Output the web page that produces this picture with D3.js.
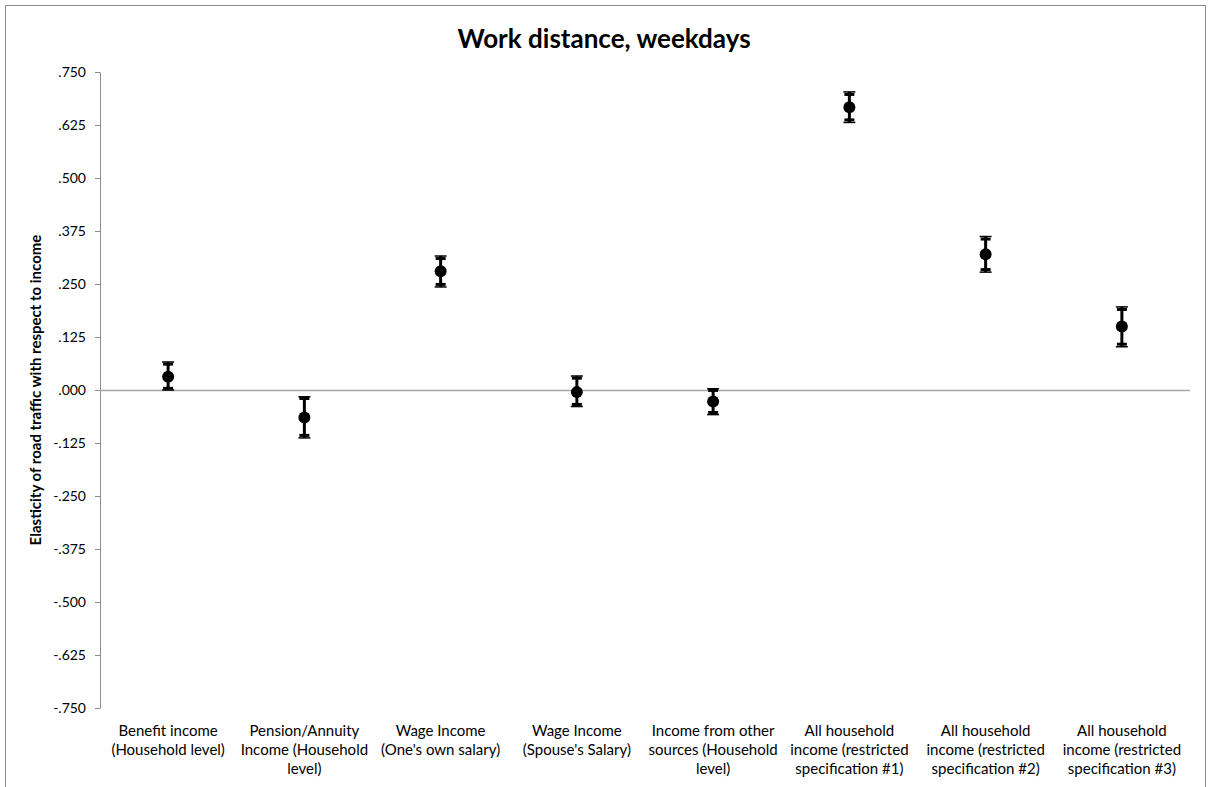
<!DOCTYPE html>
<html>
<head>
<meta charset="utf-8">
<script src="https://cdn.jsdelivr.net/npm/d3@7"></script>
<style>
  body { margin: 0; background: #fff; }
  text { font-family: Lato, "Liberation Sans", sans-serif; fill: #000; }
</style>
</head>
<body>
<div id="chart"></div>
<script>
// Categories (wrapped as in the original, one entry per line)
const categories = [
    ["Benefit income", "(Household level)"],
    ["Pension/Annuity", "Income (Household", "level)"],
    ["Wage Income", "(One's own salary)"],
    ["Wage Income", "(Spouse's Salary)"],
    ["Income from other", "sources (Household", "level)"],
    ["All household", "income (restricted", "specification #1)"],
    ["All household", "income (restricted", "specification #2)"],
    ["All household", "income (restricted", "specification #3)"]
];

// Point estimates
const estimates = [0.031, -0.065, 0.280, -0.005, -0.027, 0.667, 0.320, 0.150];

// Outer interval (thin caps)
const outerHigh = [0.066, -0.016, 0.316, 0.033, 0.003, 0.703, 0.362, 0.196];
const outerLow  = [0.000, -0.113, 0.243, -0.039, -0.058, 0.631, 0.278, 0.102];

// Inner interval (thick caps)
const innerHigh = [0.061, -0.020, 0.310, 0.028, -0.001, 0.697, 0.356, 0.190];
const innerLow  = [0.004, -0.107, 0.249, -0.034, -0.053, 0.637, 0.284, 0.108];

// Y ticks
const yTicks = [-0.750, -0.625, -0.500, -0.375, -0.250, -0.125, 0, 0.125, 0.250, 0.375, 0.500, 0.625, 0.750];

const W = 1208, H = 787;
const margin = { top: 72, right: 18, bottom: 79, left: 100 };
const width = W - margin.left - margin.right;
const height = H - margin.top - margin.bottom;

const svgRoot = d3.select("#chart").append("svg")
    .attr("width", W)
    .attr("height", H);

// Chart area border
svgRoot.append("rect")
    .attr("x", 5.5).attr("y", 5.5)
    .attr("width", 1200).attr("height", 820)
    .attr("fill", "none")
    .attr("stroke", "#8c8c8c");

const svg = svgRoot.append("g")
    .attr("transform", "translate(" + margin.left + "," + margin.top + ")");

const data = estimates.map((v, i) => ({
    idx: i,
    value: v,
    oHi: outerHigh[i], oLo: outerLow[i],
    iHi: innerHigh[i], iLo: innerLow[i]
}));

const x = d3.scaleBand()
    .domain(d3.range(categories.length))
    .range([0, width])
    .padding(0);

const y = d3.scaleLinear()
    .domain([-0.75, 0.75])
    .range([height, 0]);

const fmt = v => {
    const s = Math.abs(v).toFixed(3).replace(/^0/, "");
    return (v < 0 ? "-" : "") + s;
};

// Y axis
const yAxis = svg.append("g")
    .call(d3.axisLeft(y).tickValues(yTicks).tickFormat(fmt).tickSize(5).tickSizeOuter(0));
yAxis.select(".domain").attr("stroke", "#8c8c8c");
yAxis.selectAll(".tick line").attr("stroke", "#8c8c8c");
yAxis.selectAll(".tick text")
    .attr("x", -14)
    .style("font-size", "14px");

// Zero line (category axis)
svg.append("line")
    .attr("x1", 0).attr("x2", width)
    .attr("y1", y(0) + 0.5).attr("y2", y(0) + 0.5)
    .attr("stroke", "#a6a6a6")
    .attr("stroke-width", 1.5);

// Category labels
const labels = svg.append("g")
    .selectAll("text")
    .data(categories)
    .enter().append("text")
    .attr("text-anchor", "middle")
    .attr("x", (d, i) => x(i) + x.bandwidth() / 2)
    .attr("y", height + 28)
    .style("font-size", "15px");
labels.selectAll("tspan")
    .data(d => d)
    .enter().append("tspan")
    .attr("x", function() { return d3.select(this.parentNode).attr("x"); })
    .attr("dy", (d, i) => i === 0 ? 0 : 19)
    .text(d => d);

// Error bars
const cx = d => x(d.idx) + x.bandwidth() / 2;
const bars = svg.append("g").selectAll("g")
    .data(data)
    .enter().append("g");

bars.append("line")
    .attr("x1", cx).attr("x2", cx)
    .attr("y1", d => y(d.oHi)).attr("y2", d => y(d.oLo))
    .attr("stroke", "#000")
    .attr("stroke-width", 3);

// outer thin caps
["oHi", "oLo"].forEach(k => {
    bars.append("line")
        .attr("x1", d => cx(d) - 6).attr("x2", d => cx(d) + 6)
        .attr("y1", d => y(d[k])).attr("y2", d => y(d[k]))
        .attr("stroke", "#000")
        .attr("stroke-width", 1.5);
});
// inner thick caps
["iHi", "iLo"].forEach(k => {
    bars.append("line")
        .attr("x1", d => cx(d) - 5).attr("x2", d => cx(d) + 5)
        .attr("y1", d => y(d[k])).attr("y2", d => y(d[k]))
        .attr("stroke", "#000")
        .attr("stroke-width", 3);
});

// Points
bars.append("circle")
    .attr("cx", cx)
    .attr("cy", d => y(d.value))
    .attr("r", 6)
    .attr("fill", "#000");

// Title
svgRoot.append("text")
    .attr("x", 604)
    .attr("y", 48)
    .attr("text-anchor", "middle")
    .style("font-size", "26px")
    .style("font-weight", "bold")
    .text("Work distance, weekdays");

// Y axis label
svgRoot.append("text")
    .attr("transform", "translate(41," + (margin.top + height / 2) + ") rotate(-90)")
    .attr("text-anchor", "middle")
    .style("font-size", "15px")
    .style("font-weight", "bold")
    .text("Elasticity of road traffic with respect to income");
</script>
</body>
</html>
